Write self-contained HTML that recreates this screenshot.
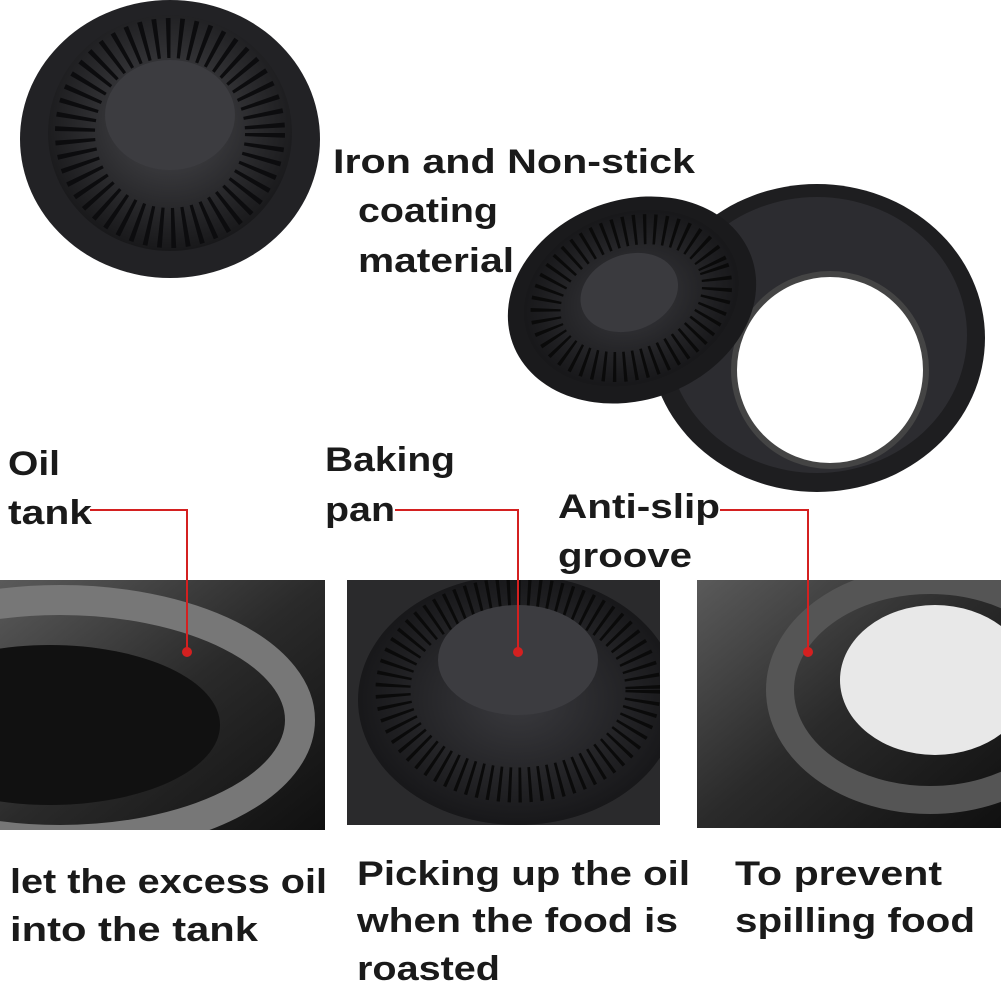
<!DOCTYPE html>
<html><head><meta charset="utf-8"><style>
html,body{margin:0;padding:0;background:#fff;}
svg{display:block;}
text{font-family:"Liberation Sans",Arial,sans-serif;font-weight:bold;fill:#1a1a1a;font-size:34px;}
</style></head><body>
<svg width="1001" height="1001" viewBox="0 0 1001 1001" xmlns="http://www.w3.org/2000/svg">
<defs>
<radialGradient id="g1" cx="50%" cy="45%" r="55%"><stop offset="0" stop-color="#4a4a4e"/><stop offset="1" stop-color="#18181a"/></radialGradient>
<radialGradient id="g2" cx="50%" cy="50%" r="55%"><stop offset="0" stop-color="#3a3a3e"/><stop offset="1" stop-color="#141416"/></radialGradient>
<linearGradient id="p1" x1="0" y1="0" x2="1" y2="1"><stop offset="0" stop-color="#5a5a5a"/><stop offset="0.5" stop-color="#2a2a2a"/><stop offset="1" stop-color="#101010"/></linearGradient>
<clipPath id="c1"><rect x="0" y="580" width="325" height="250"/></clipPath>
<clipPath id="c2"><rect x="347" y="580" width="313" height="245"/></clipPath>
<clipPath id="c3"><rect x="697" y="580" width="304" height="248"/></clipPath>
</defs>
<rect width="1001" height="1001" fill="#fff"/>
<ellipse cx="170" cy="139" rx="150" ry="139" fill="#222225"/>
<ellipse cx="170" cy="133" rx="122" ry="118" fill="url(#g1)"/>
<circle cx="170" cy="133" r="95" fill="none" stroke="#0c0c0e" stroke-dasharray="4 8" stroke-width="40"/>
<ellipse cx="170" cy="115" rx="65" ry="55" fill="#3c3c40"/>
<g lengthAdjust="spacingAndGlyphs">
<text x="333" y="173" textLength="362" lengthAdjust="spacingAndGlyphs">Iron and Non-stick</text>
<text x="358" y="222" textLength="140" lengthAdjust="spacingAndGlyphs">coating</text>
<text x="358" y="272" textLength="156" lengthAdjust="spacingAndGlyphs">material</text>
</g>
<ellipse cx="817" cy="338" rx="168" ry="154" fill="#1e1e20"/>
<ellipse cx="817" cy="335" rx="150" ry="138" fill="#2c2c30"/>
<ellipse cx="830" cy="370" rx="96" ry="96" fill="#fff"/>
<ellipse cx="830" cy="370" rx="96" ry="96" fill="none" stroke="#444" stroke-width="6"/>
<g transform="rotate(-20 632 300)">
<ellipse cx="632" cy="300" rx="127" ry="100" fill="#1a1a1c"/>
<ellipse cx="632" cy="298" rx="110" ry="85" fill="url(#g2)"/>
<ellipse cx="632" cy="298" rx="88" ry="66" fill="none" stroke="#0a0a0a" stroke-width="30" stroke-dasharray="3 7"/>
<ellipse cx="632" cy="292" rx="50" ry="38" fill="#3a3a3e"/>
</g>
<text x="8" y="475" textLength="52" lengthAdjust="spacingAndGlyphs">Oil</text>
<text x="8" y="524" textLength="84" lengthAdjust="spacingAndGlyphs">tank</text>
<text x="325" y="471" textLength="130" lengthAdjust="spacingAndGlyphs">Baking</text>
<text x="325" y="521" textLength="70" lengthAdjust="spacingAndGlyphs">pan</text>
<text x="558" y="518" textLength="162" lengthAdjust="spacingAndGlyphs">Anti-slip</text>
<text x="558" y="567" textLength="134" lengthAdjust="spacingAndGlyphs">groove</text>
<g clip-path="url(#c1)">
<rect x="0" y="580" width="325" height="250" fill="url(#p1)"/>
<ellipse cx="60" cy="720" rx="240" ry="120" fill="none" stroke="#777" stroke-width="30"/>
<ellipse cx="50" cy="725" rx="170" ry="80" fill="#111"/>
</g>
<g clip-path="url(#c2)">
<rect x="347" y="580" width="313" height="245" fill="#2a2a2c"/>
<ellipse cx="518" cy="700" rx="160" ry="125" fill="url(#g2)"/>
<ellipse cx="518" cy="690" rx="125" ry="95" fill="none" stroke="#0a0a0a" stroke-width="35" stroke-dasharray="3 7"/>
<ellipse cx="518" cy="660" rx="80" ry="55" fill="#3c3c40"/>
</g>
<g clip-path="url(#c3)">
<rect x="697" y="580" width="304" height="248" fill="url(#p1)"/>
<ellipse cx="930" cy="690" rx="150" ry="110" fill="none" stroke="#555" stroke-width="28"/>
<ellipse cx="935" cy="680" rx="95" ry="75" fill="#e8e8e8"/>
</g>
<g stroke="#d42020" stroke-width="2" fill="none">
<polyline points="90,510 187,510 187,650"/>
<polyline points="395,510 518,510 518,650"/>
<polyline points="720,510 808,510 808,650"/>
</g>
<circle cx="187" cy="652" r="5" fill="#d42020"/>
<circle cx="518" cy="652" r="5" fill="#d42020"/>
<circle cx="808" cy="652" r="5" fill="#d42020"/>
<text x="10" y="893" textLength="317" lengthAdjust="spacingAndGlyphs">let the excess oil</text>
<text x="10" y="941" textLength="248" lengthAdjust="spacingAndGlyphs">into the tank</text>
<text x="357" y="885" textLength="333" lengthAdjust="spacingAndGlyphs">Picking up the oil</text>
<text x="357" y="932" textLength="321" lengthAdjust="spacingAndGlyphs">when the food is</text>
<text x="357" y="980" textLength="143" lengthAdjust="spacingAndGlyphs">roasted</text>
<text x="735" y="885" textLength="207" lengthAdjust="spacingAndGlyphs">To prevent</text>
<text x="735" y="932" textLength="240" lengthAdjust="spacingAndGlyphs">spilling food</text>
</svg>
</body></html>
